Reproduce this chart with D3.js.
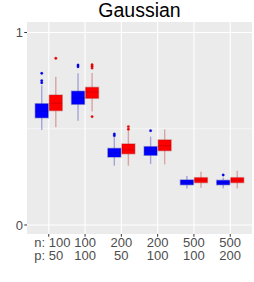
<!DOCTYPE html>
<html><head><meta charset="utf-8">
<script src="https://cdn.jsdelivr.net/npm/d3@7"></script>
<style>body{margin:0;background:#fff}svg{display:block}</style>
</head><body>
<svg id="c" width="254" height="282"></svg>
<script>
const nLabels = ["n: 100","100","200","200","500","500"];
const pLabels = ["p: 50","100","50","100","100","200"];
const categories = ["g1","g2","g3","g4","g5","g6"];
const groups = ["blue","red"];
const colors = {blue:"#0000ff", red:"#ff0000"};
const edgeColors = {blue:"#0000aa", red:"#aa0000"};

const blueLow  = [0.494,0.542,0.308,0.317,0.189,0.191];
const blueQ1   = [0.557,0.627,0.353,0.362,0.209,0.209];
const blueMed  = [0.590,0.660,0.375,0.385,0.221,0.220];
const blueQ3   = [0.630,0.695,0.398,0.407,0.234,0.232];
const blueHigh = [0.724,0.788,0.456,0.459,0.255,0.246];
const blueOut  = [[0.788,0.750,0.739],[0.831,0.822],[0.473,0.464],[0.490],[],[0.260]];

const redLow  = [0.508,0.589,0.308,0.315,0.194,0.191];
const redQ1   = [0.594,0.658,0.370,0.386,0.220,0.220];
const redMed  = [0.632,0.690,0.390,0.412,0.233,0.233];
const redQ3   = [0.675,0.715,0.421,0.442,0.246,0.246];
const redHigh = [0.770,0.790,0.488,0.497,0.277,0.282];
const redOut  = [[0.866],[0.833,0.825,0.815,0.563],[0.511,0.497],[],[],[]];

const yTicks = [0, 1];
const yMinor = [0.5];

const panel = {l:27, r:252, t:22, b:234};
const svg = d3.select("#c");
const font = "'Liberation Sans', Arial, sans-serif";

const x = d3.scalePoint().domain(categories).range([panel.l, panel.r]).padding(0.6);
const sub = d3.scaleBand().domain(groups).range([-13.5, 13.5]).paddingInner(0.08);
const y = d3.scaleLinear().domain([-0.0468, 1.0545]).range([panel.b, panel.t]);

svg.append("rect").attr("x",panel.l).attr("y",panel.t)
  .attr("width",panel.r-panel.l).attr("height",panel.b-panel.t).attr("fill","#ebebeb");

svg.append("g").selectAll("line").data(yMinor).join("line")
  .attr("x1",panel.l).attr("x2",panel.r).attr("y1",d=>y(d)).attr("y2",d=>y(d))
  .attr("stroke","#fff").attr("stroke-width",0.55);
svg.append("g").selectAll("line").data(yTicks).join("line")
  .attr("x1",panel.l).attr("x2",panel.r).attr("y1",d=>y(d)).attr("y2",d=>y(d))
  .attr("stroke","#fff").attr("stroke-width",1.1);
svg.append("g").selectAll("line").data(categories).join("line")
  .attr("y1",panel.t).attr("y2",panel.b).attr("x1",d=>x(d)).attr("x2",d=>x(d))
  .attr("stroke","#fff").attr("stroke-width",1.1);

const series = {
  blue: {low:blueLow,q1:blueQ1,med:blueMed,q3:blueQ3,high:blueHigh,out:blueOut},
  red:  {low:redLow,q1:redQ1,med:redMed,q3:redQ3,high:redHigh,out:redOut}
};

const bw = sub.bandwidth();
groups.forEach(gk => {
  const s = series[gk];
  const g = svg.append("g");
  categories.forEach((c,i) => {
    const cx = x(c) + sub(gk) + bw/2;
    g.append("line").attr("x1",cx).attr("x2",cx).attr("y1",y(s.q3[i])).attr("y2",y(s.high[i]))
      .attr("stroke",edgeColors[gk]).attr("stroke-opacity",0.3).attr("stroke-width",1.4);
    g.append("line").attr("x1",cx).attr("x2",cx).attr("y1",y(s.q1[i])).attr("y2",y(s.low[i]))
      .attr("stroke",edgeColors[gk]).attr("stroke-opacity",0.3).attr("stroke-width",1.4);
    g.append("rect").attr("x",cx-bw/2).attr("width",bw)
      .attr("y",y(s.q3[i])).attr("height",y(s.q1[i])-y(s.q3[i]))
      .attr("fill",colors[gk]).attr("stroke",edgeColors[gk]).attr("stroke-opacity",0.3).attr("stroke-width",1.4);
    g.append("line").attr("x1",cx-bw/2).attr("x2",cx+bw/2).attr("y1",y(s.med[i])).attr("y2",y(s.med[i]))
      .attr("stroke",edgeColors[gk]).attr("stroke-opacity",0.3).attr("stroke-width",1.4);
    g.selectAll(null).data(s.out[i]).join("circle")
      .attr("cx",cx).attr("cy",d=>y(d)).attr("r",1.2)
      .attr("fill",colors[gk]).attr("stroke",edgeColors[gk]).attr("stroke-opacity",0.3).attr("stroke-width",1);
  });
});

const ya = svg.append("g");
ya.selectAll("line").data(yTicks).join("line")
  .attr("x1",panel.l-2.75).attr("x2",panel.l).attr("y1",d=>y(d)).attr("y2",d=>y(d))
  .attr("stroke","#333").attr("stroke-width",1);
ya.selectAll("text").data(yTicks).join("text")
  .attr("x",panel.l-4).attr("y",d=>y(d)).attr("dy","0.36em")
  .attr("text-anchor","end").attr("font-family",font).attr("font-size",13).attr("fill","#4d4d4d")
  .text(d=>d);

const xa = svg.append("g");
xa.selectAll("line").data(categories).join("line")
  .attr("x1",d=>x(d)).attr("x2",d=>x(d)).attr("y1",panel.b).attr("y2",panel.b+2.75)
  .attr("stroke","#333").attr("stroke-width",1);
const nText = xa.selectAll("text.n").data(categories).join("text").attr("class","n")
  .attr("x",d=>x(d)).attr("y",247).attr("text-anchor","middle")
  .attr("font-family",font).attr("font-size",13).attr("fill","#4d4d4d")
  .text((d,i)=>nLabels[i]);
const pText = xa.selectAll("text.p").data(categories).join("text").attr("class","p")
  .attr("x",d=>x(d)).attr("y",259.5).attr("text-anchor","middle")
  .attr("font-family",font).attr("font-size",13).attr("fill","#4d4d4d")
  .text((d,i)=>pLabels[i]);
// labels carrying the "n:"/"p:" prefix are left-aligned to the second line's start
pText.each(function(d,i){
  if (nLabels[i].includes(":")) {
    const w2 = this.getComputedTextLength();
    const start = x(d) - w2/2;
    d3.select(this).attr("text-anchor","start").attr("x",start);
    nText.filter((e,j)=>j===i).attr("text-anchor","start").attr("x",start);
  }
});

svg.append("text").attr("x",(panel.l+panel.r)/2).attr("y",17)
  .attr("text-anchor","middle").attr("font-family",font).attr("font-size",19.5).attr("fill","#000")
  .text("Gaussian");
</script>
</body></html>
